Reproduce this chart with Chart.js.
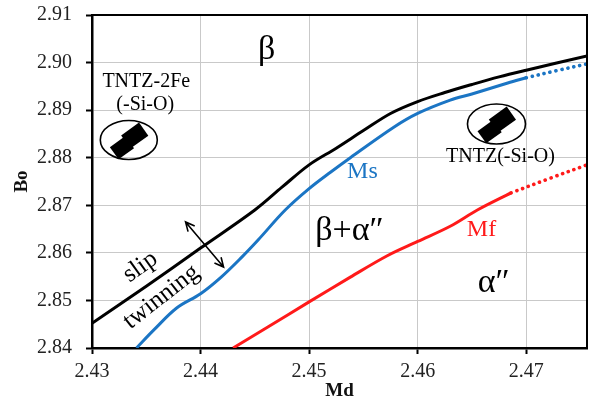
<!DOCTYPE html>
<html>
<head>
<meta charset="utf-8">
<style>
  html, body { margin: 0; padding: 0; background: #ffffff; }
  #wrap { width: 592px; height: 401px; }
</style>
<script src="https://cdn.jsdelivr.net/npm/chart.js@4/dist/chart.umd.min.js"></script>
</head>
<body>
<div id="wrap"><canvas id="c" width="592" height="401"></canvas></div>
<script>
// Axis ticks
const mdTicks = [2.43, 2.44, 2.45, 2.46, 2.47];
const boTicks = [2.84, 2.85, 2.86, 2.87, 2.88, 2.89, 2.90, 2.91];

// Slip / twinning boundary (black)
const mdSlip = [2.430, 2.435, 2.440, 2.445, 2.4475, 2.450, 2.4525, 2.455, 2.4575, 2.460, 2.4625, 2.465, 2.4675, 2.470, 2.4756];
const boSlip = [2.8452, 2.8530, 2.8610, 2.8690, 2.8738, 2.8785, 2.8820, 2.8857, 2.8893, 2.8918, 2.8937, 2.8954, 2.8970, 2.8984, 2.9014];

// Ms line (measured part and extrapolation)
const mdMs = [2.4341, 2.4357, 2.4378, 2.440, 2.4419, 2.4438, 2.4453, 2.4478, 2.450, 2.452, 2.4538, 2.4578, 2.460, 2.463, 2.465, 2.4683, 2.470];
const boMs = [2.8400, 2.8438, 2.8484, 2.8514, 2.8549, 2.8591, 2.8627, 2.8690, 2.8735, 2.8770, 2.8800, 2.8864, 2.8893, 2.8921, 2.8934, 2.8957, 2.8968];
const mdMsExt = [2.470, 2.4728, 2.4756];
const boMsExt = [2.8968, 2.8983, 2.8997];

// Mf line (measured part and extrapolation)
const mdMf = [2.4430, 2.4462, 2.450, 2.4538, 2.4572, 2.460, 2.463, 2.4655, 2.4686];
const boMf = [2.8400, 2.8444, 2.8497, 2.8549, 2.8594, 2.8624, 2.8656, 2.8690, 2.8726];
const mdMfExt = [2.4686, 2.4721, 2.4756];
const boMfExt = [2.8726, 2.8756, 2.8785];

const SERIF = "'Liberation Serif', 'Times New Roman', serif";
const pts = (xs, ys) => xs.map((x, i) => ({ x: x, y: ys[i] }));

const BLACK = '#000000';
const BLUE = '#1b75c4';
const RED = '#ff1a1a';

function lineSet(label, data, color, dotted) {
  return {
    label: label,
    data: data,
    borderColor: color,
    backgroundColor: color,
    borderWidth: dotted ? 3.6 : 3,
    borderDash: dotted ? [0.1, 6] : [],
    borderCapStyle: dotted ? 'round' : 'butt',
    pointRadius: 0,
    pointHoverRadius: 0,
    fill: false,
    tension: 0.35,
    showLine: true
  };
}

// Annotations: phase labels, compositions and slip/twinning arrow
const notes = {
  id: 'notes',
  afterDatasetsDraw(chart) {
    const ctx = chart.ctx;
    const xs = chart.scales.x, ys = chart.scales.y;
    const at = (mx, by) => [xs.getPixelForValue(mx), ys.getPixelForValue(by)];

    const text = (str, mx, by, size, color, rot) => {
      const [px, py] = at(mx, by);
      ctx.save();
      ctx.translate(px, py);
      if (rot) ctx.rotate(rot);
      ctx.font = size + 'px ' + SERIF;
      ctx.fillStyle = color;
      ctx.textAlign = 'center';
      ctx.textBaseline = 'middle';
      ctx.fillText(str, 0, 0);
      ctx.restore();
    };

    const marker = (mx, by, rx, ry) => {
      const [px, py] = at(mx, by);
      ctx.save();
      ctx.strokeStyle = BLACK;
      ctx.lineWidth = 1.6;
      ctx.beginPath();
      ctx.ellipse(px, py, rx, ry, 0, 0, Math.PI * 2);
      ctx.stroke();
      ctx.translate(px, py + 1);
      ctx.rotate(-0.62);
      ctx.fillStyle = BLACK;
      ctx.fillRect(-19, -6, 19, 15);
      ctx.fillRect(-3, -9, 22, 16);
      ctx.restore();
    };

    text('\u03B2', 2.4461, 2.9026, 34, BLACK);
    text('TNTZ-2Fe', 2.4350, 2.8959, 20, BLACK);
    text('(-Si-O)', 2.4349, 2.8911, 20, BLACK);
    marker(2.43339, 2.88373, 28.5, 19.5);
    marker(2.46726, 2.88709, 29, 20);
    text('TNTZ(-Si-O)', 2.46763, 2.88015, 20, BLACK);
    text('Ms', 2.45491, 2.87700, 24, BLUE);
    text('\u03B2+\u03B1\u2033', 2.45372, 2.86460, 34, BLACK);
    text('Mf', 2.46588, 2.86480, 24, RED);
    text('\u03B1\u2033', 2.46700, 2.85366, 34, BLACK);
    text('slip', 2.43445, 2.85703, 25, BLACK, -0.62);
    text('twinning', 2.43639, 2.85072, 25, BLACK, -0.66);

    // double-headed arrow across the boundary
    const [ax, ay] = at(2.43862, 2.86649);
    const [bx, by] = at(2.44212, 2.85703);
    const ang = Math.atan2(by - ay, bx - ax);
    const head = 10, spread = 0.45;
    ctx.save();
    ctx.strokeStyle = BLACK;
    ctx.lineWidth = 1.6;
    ctx.beginPath();
    ctx.moveTo(ax, ay); ctx.lineTo(bx, by);
    ctx.moveTo(ax + head * Math.cos(ang - spread), ay + head * Math.sin(ang - spread));
    ctx.lineTo(ax, ay);
    ctx.lineTo(ax + head * Math.cos(ang + spread), ay + head * Math.sin(ang + spread));
    ctx.moveTo(bx - head * Math.cos(ang - spread), by - head * Math.sin(ang - spread));
    ctx.lineTo(bx, by);
    ctx.lineTo(bx - head * Math.cos(ang + spread), by - head * Math.sin(ang + spread));
    ctx.stroke();
    ctx.restore();
  },
  afterDraw(chart) {
    // closing frame on the top and right of the plot
    const a = chart.chartArea, ctx = chart.ctx;
    ctx.save();
    ctx.strokeStyle = BLACK;
    ctx.lineWidth = 2;
    ctx.beginPath();
    ctx.moveTo(a.left, a.top);
    ctx.lineTo(a.right, a.top);
    ctx.lineTo(a.right, a.bottom);
    ctx.stroke();
    ctx.restore();
  }
};

const fixedTicks = (arr) => (scale) => { scale.ticks = arr.map(v => ({ value: v })); };

new Chart(document.getElementById('c'), {
  type: 'line',
  data: {
    datasets: [
      lineSet('slip/twinning', pts(mdSlip, boSlip), BLACK, false),
      lineSet('Ms', pts(mdMs, boMs), BLUE, false),
      lineSet('Ms (ext.)', pts(mdMsExt, boMsExt), BLUE, true),
      lineSet('Mf', pts(mdMf, boMf), RED, false),
      lineSet('Mf (ext.)', pts(mdMfExt, boMfExt), RED, true)
    ]
  },
  options: {
    responsive: false,
    animation: false,
    devicePixelRatio: 1,
    layout: { padding: { top: 15, right: 5, bottom: 0, left: 0 } },
    plugins: { legend: { display: false }, tooltip: { enabled: false } },
    scales: {
      x: {
        type: 'linear',
        min: 2.43,
        max: 2.4756,
        afterBuildTicks: fixedTicks(mdTicks),
        afterFit: (s) => { s.height = 53; s.paddingLeft = 0; s.paddingRight = 0; },
        grid: { color: '#c9c9c9', lineWidth: 1, tickColor: BLACK, tickLength: 6, tickWidth: 2 },
        border: { color: BLACK, width: 2.5 },
        ticks: {
          color: '#222',
          padding: 6,
          maxRotation: 0,
          font: { family: SERIF, size: 20 },
          callback: (v) => Number(v).toFixed(2)
        },
        title: {
          display: true,
          text: 'Md',
          color: '#111',
          font: { family: SERIF, size: 19, weight: 'bold', lineHeight: 1 },
          padding: { top: 0, bottom: 0 }
        }
      },
      y: {
        type: 'linear',
        min: 2.84,
        max: 2.91,
        afterBuildTicks: fixedTicks(boTicks),
        afterFit: (s) => { s.width = 92; s.paddingTop = 0; s.paddingBottom = 0; },
        grid: { color: '#c9c9c9', lineWidth: 1, tickColor: BLACK, tickLength: 6, tickWidth: 2 },
        border: { color: BLACK, width: 2.5 },
        ticks: {
          color: '#222',
          padding: 14,
          font: { family: SERIF, size: 20 },
          callback: (v) => Number(v).toFixed(2)
        },
        title: {
          display: true,
          text: 'Bo',
          color: '#111',
          font: { family: SERIF, size: 19, weight: 'bold', lineHeight: 1 },
          padding: { top: 13, bottom: 0 }
        }
      }
    }
  },
  plugins: [notes]
});
</script>
</body>
</html>
